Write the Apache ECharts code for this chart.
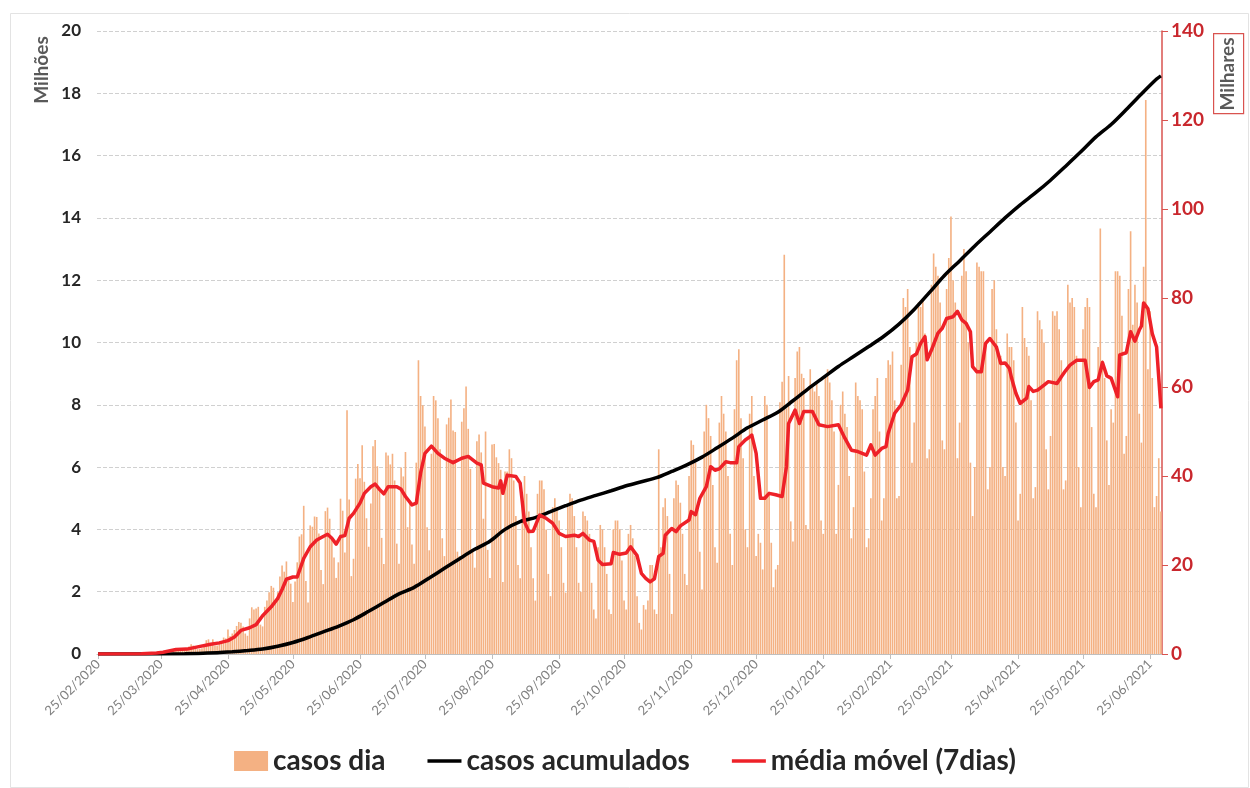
<!DOCTYPE html>
<html>
<head>
<meta charset="utf-8">
<script src="https://cdn.jsdelivr.net/npm/echarts@6/dist/echarts.min.js"></script>
<style>
  html, body { margin: 0; padding: 0; background: #fff; }
  #chart { width: 1250px; height: 788px; }
</style>
</head>
<body>
<div id="chart"></div>
<script>
// datas: 25/02/2020 .. 30/06/2021 (um valor por dia)
var startDate = Date.UTC(2020, 1, 25);
var nDays = 492;
function pad(n) { return (n < 10 ? '0' : '') + n; }
var dates = [];
for (var i = 0; i < nDays; i++) {
    var d = new Date(startDate + i * 86400000);
    dates.push(pad(d.getUTCDate()) + '/' + pad(d.getUTCMonth() + 1) + '/' + d.getUTCFullYear());
}

// casos por dia, em milhares (semanas de terça a segunda)
var casosDia = [
    0, 0, 0, 0, 0, 0, 0,
    0, 0, 0.01, 0, 0, 0.01, 0,
    0.02, 0.01, 0.02, 0.04, 0.03, 0.05, 0.04,
    0.06, 0.1, 0.2, 0.2, 0.3, 0.4, 0.3,
    0.35, 0.23, 0.48, 0.5, 0.5, 0.35, 0.32,
    1.1, 1.0, 1.2, 1.1, 1.2, 0.9, 0.9,
    1.7, 2.2, 1.9, 1.8, 1.1, 1.2, 1.3,
    1.8, 3.1, 3.3, 2.1, 3.3, 1.9, 1.9,
    2.3, 2.7, 3.7, 3.5, 5.5, 4.0, 4.6,
    5.4, 6.3, 7.2, 7.0, 6.2, 4.6, 4.1,
    8.0, 10.5, 10.0, 10.2, 10.6, 6.6, 6.2,
    10.6, 12.0, 13.9, 15.3, 14.9, 11.8, 13.9,
    17.4, 19.9, 18.5, 20.8, 16.5, 15.8, 11.7,
    16.3, 20.6, 26.4, 26.9, 33.3, 16.4, 11.6,
    28.9, 28.6, 30.9, 30.8, 27.1, 18.9, 15.7,
    32.1, 32.9, 30.4, 26.0, 21.7, 17.1, 20.6,
    34.9, 32.2, 22.8, 54.8, 34.7, 17.5, 21.4,
    39.4, 42.7, 39.5, 46.9, 38.7, 30.5, 24.1,
    33.8, 46.7, 48.1, 42.2, 37.3, 26.1, 20.2,
    45.3, 44.6, 42.6, 45.0, 39.0, 24.8, 20.3,
    41.9, 39.9, 45.4, 28.5, 34.2, 24.6, 20.3,
    43.0, 66.0, 58.0, 55.9, 51.1, 28.5, 23.3,
    45, 58, 57, 53, 46, 26, 22,
    51.6, 53.1, 57.2, 50.2, 49.9, 23.0, 22.0,
    52.2, 55.2, 60.1, 50.6, 41.6, 23.1, 19.4,
    47.8, 49.3, 45.3, 30.4, 50.0, 23.4, 17.1,
    47.1, 47.2, 44.2, 42.9, 41.4, 16.2, 41.0,
    41, 46, 44, 39, 31, 20, 17,
    35, 40, 36, 32, 24, 17, 12,
    36, 39, 39, 37, 28, 18, 13,
    33, 35, 33, 30, 24, 16, 13.8,
    33, 36, 35, 31, 24, 16, 14,
    32, 31, 30, 27, 16, 10, 8,
    24, 29, 28, 24, 18, 10, 9,
    28, 30, 30, 28, 21, 12, 10,
    27, 29, 26, 22, 13, 7, 5.5,
    11, 10, 12, 20, 20, 10, 9,
    46, 24, 33, 35, 31, 18, 9,
    35, 39, 38, 34, 27, 18, 15.5,
    40, 48, 47, 43, 33, 23, 14.5,
    50, 56, 53, 49, 38, 24, 20.5,
    52, 58, 54, 50, 40, 27, 20,
    55, 66, 68.5, 53, 44, 28, 24,
    54, 58, 40, 22, 27, 25, 19,
    58, 56, 36, 25, 15, 19, 20,
    56.6, 61.2, 89.7, 55.2, 62.5, 29.8, 25.3,
    62, 68, 69, 63, 62, 29, 28,
    64, 60, 59, 61, 58, 30, 27,
    62, 64, 61, 57, 50, 27, 38,
    56, 59, 54, 51, 40, 26, 33,
    61, 58, 57, 55, 41, 24, 26,
    35, 55, 58, 62, 50, 30, 35,
    62, 66, 65, 68, 57, 35, 35.5,
    65, 80, 78, 82, 69, 43, 52,
    70, 79, 78, 80, 72, 44, 46,
    83, 90, 87, 85, 79, 48, 46,
    82, 89, 98.3, 84, 79, 44, 52,
    85, 91, 86, 70, 43, 31, 42,
    88, 87, 86, 86, 70, 37, 42,
    82, 84, 73, 67, 67, 42, 40,
    72, 69, 69, 66, 52, 30, 36,
    78, 71, 69, 67, 57, 35, 37.5,
    77, 75, 73, 70, 46, 37, 49,
    77, 76, 77, 73, 66, 37, 39,
    83, 79, 80, 78, 67, 42, 33,
    73, 78, 80, 78, 51, 36, 33,
    69, 95.6, 66, 62, 48, 38, 55,
    52, 86, 86, 85, 76, 45, 49,
    82, 95, 74, 83, 79, 54, 47.5,
    87, 124.5, 64, 77, 62, 33, 35.5,
    44, 32
];

// média móvel (7 dias), em milhares: índice do dia e valor
var mediaDia = [0, 20, 27, 30, 36, 41, 46, 52, 56, 60, 63, 66, 70, 73, 76, 80, 83, 85, 87, 90,
    92, 95, 98, 101, 104, 106, 108, 110, 112, 114, 116, 118, 121, 123, 126, 128, 130, 132, 134, 138,
    140, 142, 145, 147, 149, 151, 154, 157, 160, 164, 168, 171, 175, 177, 178, 182, 185, 186, 187, 189,
    193, 195, 197, 199, 201, 204, 207, 210, 213, 216, 220, 222, 224, 227, 229, 231, 233, 237, 238, 241,
    244, 246, 249, 251, 253, 255, 257, 259, 261, 262, 265, 267, 269, 273, 274, 276, 278, 281, 283, 285,
    287, 290, 292, 295, 296, 299, 301, 302, 304, 306, 308, 310, 313, 316, 318, 319, 322, 324, 326, 330,
    333, 337, 342, 345, 348, 351, 355, 357, 359, 362, 364, 365, 368, 371, 374, 376, 378, 380, 382, 383,
    385, 388, 390, 392, 395, 397, 399, 401, 403, 404, 406, 408, 410, 412, 415, 417, 419, 421, 422, 424,
    426, 429, 430, 432, 434, 437, 439, 443, 445, 447, 449, 452, 456, 458, 460, 462, 464, 466, 468, 471,
    472, 475, 477, 479, 481, 482, 483, 485, 487, 489, 491];
var mediaVal = [0, 0.05, 0.25, 0.4, 1.0, 1.1, 1.6, 2.2, 2.5, 3.0, 3.8, 5.3, 5.9, 6.6, 8.6, 10.6, 12.5, 14.5, 16.8, 17.3,
    17.3, 21.5, 24.1, 25.6, 26.4, 26.9, 26.0, 24.7, 26.4, 26.6, 30.5, 31.6, 33.9, 36.1, 37.6, 38.2, 37.0, 36.0, 37.6, 37.6,
    37.0, 35.4, 33.5, 33.9, 40.7, 45.1, 46.7, 45.1, 44.0, 43.0, 44.0, 44.4, 42.9, 42.5, 38.4, 37.6, 37.3, 38.9, 36.1, 40.2,
    39.9, 38.4, 29.7, 27.5, 27.6, 31.2, 30.5, 29.4, 27.1, 26.4, 26.7, 26.4, 27.1, 25.6, 25.3, 21.1, 20.1, 20.3, 22.8, 22.4,
    22.7, 24.1, 22.1, 18.1, 17.0, 16.2, 16.9, 21.9, 22.6, 26.7, 28.2, 27.5, 28.8, 30.1, 32.0, 31.3, 35.0, 37.6, 42.1, 41.3,
    41.6, 43.2, 43.0, 43.0, 46.6, 48.1, 48.8, 49.2, 45.1, 35.0, 35.0, 36.1, 35.8, 35.4, 42.1, 51.8, 54.8, 51.8, 54.5, 54.5,
    51.5, 51.1, 51.5, 48.5, 45.8, 45.5, 44.7, 47.0, 44.7, 46.2, 46.6, 49.6, 54.1, 56.0, 59.3, 66.8, 67.4, 69.8, 71.3, 66.1,
    68.3, 72.1, 73.2, 75.4, 75.8, 77.0, 75.1, 74.3, 72.4, 64.6, 63.4, 63.4, 69.8, 70.9, 69.0, 65.3, 65.4, 64.2, 62.0, 58.6,
    56.3, 57.5, 60.1, 59.0, 59.3, 60.4, 61.2, 60.8, 62.3, 63.7, 64.9, 66.0, 66.0, 59.9, 61.2, 61.6, 65.5, 62.5, 62.0, 57.8,
    67.2, 67.7, 72.4, 70.3, 72.8, 73.7, 78.9, 77.6, 72.0, 69.0, 55.2];

// casos acumulados, em milhões
var acumDia = [0, 40, 55, 62, 69, 76, 83, 90, 97, 104, 111, 118, 125, 132, 139, 146, 153, 160, 167, 174,
    181, 188, 195, 202, 209, 216, 223, 230, 237, 244, 251, 258, 265, 272, 279, 286, 293, 300, 307, 314,
    321, 328, 335, 342, 349, 356, 363, 370, 377, 384, 391, 398, 405, 412, 419, 426, 433, 440, 447, 454,
    461, 468, 475, 482, 489, 491];
var acumVal = [0, 0.01, 0.04, 0.07, 0.11, 0.16, 0.25, 0.37, 0.53, 0.71, 0.89, 1.1, 1.37, 1.65, 1.93, 2.14, 2.44, 2.75, 3.06, 3.36,
    3.62, 4.0, 4.25, 4.38, 4.57, 4.76, 4.94, 5.09, 5.24, 5.40, 5.53, 5.66, 5.86, 6.07, 6.32, 6.62, 6.93, 7.26, 7.51, 7.76,
    8.13, 8.51, 8.87, 9.23, 9.55, 9.87, 10.2, 10.59, 11.06, 11.6, 12.15, 12.62, 13.1, 13.55, 14.0, 14.42, 14.8, 15.21, 15.66, 16.12,
    16.6, 17.0, 17.48, 17.98, 18.46, 18.56];

var yEsqTicks = { min: 0, max: 20, step: 2 };
var yDirTicks = { min: 0, max: 140, step: 20 };

var fonte = "Lato, 'Open Sans', sans-serif";
var vermelho = '#ee2128';
var iconeLinha = 'path://M0,0H34V3.6H0Z';

var chartDom = document.getElementById('chart');
var myChart = echarts.init(chartDom);

function is25(idx, value) { return value.substring(0, 3) === '25/'; }

var option = {
    backgroundColor: '#fff',
    animation: false,
    grid: { left: 97, right: 88, top: 31, bottom: 134 },
    legend: {
        bottom: 8,
        left: 'center',
        itemGap: 42,
        itemWidth: 34,
        itemHeight: 20,
        textStyle: { fontFamily: fonte, fontWeight: 'bold', fontSize: 28, color: '#262626' },
        data: [
            { name: 'casos dia', icon: 'rect' },
            { name: 'casos acumulados', icon: iconeLinha },
            { name: 'média móvel (7dias)', icon: iconeLinha }
        ]
    },
    xAxis: {
        type: 'category',
        data: dates,
        boundaryGap: true,
        axisLine: { lineStyle: { color: '#bfbfbf', width: 1 } },
        axisTick: { show: true, interval: is25, alignWithLabel: true, length: 5, lineStyle: { color: '#bfbfbf' } },
        axisLabel: { interval: is25, rotate: 45, color: '#7f7f7f', fontSize: 13, fontFamily: fonte, margin: 8 },
        splitLine: { show: false }
    },
    yAxis: [{
        type: 'value',
        position: 'left',
        min: yEsqTicks.min, max: yEsqTicks.max, interval: yEsqTicks.step,
        axisLine: { show: false },
        axisTick: { show: false },
        axisLabel: { color: '#262626', fontWeight: 'bold', fontSize: 17, fontFamily: fonte, margin: 16 },
        splitLine: { show: true, lineStyle: { color: '#d0d0d0', type: 'dashed', width: 1 } }
    }, {
        type: 'value',
        position: 'right',
        min: yDirTicks.min, max: yDirTicks.max, interval: yDirTicks.step,
        axisLine: { show: true, lineStyle: { color: '#d9534f', width: 1.5 } },
        axisTick: { show: true, inside: false, length: 6, lineStyle: { color: '#d9534f' } },
        axisLabel: { color: '#c9272d', fontWeight: 'bold', fontSize: 19, fontFamily: fonte, margin: 9 },
        splitLine: { show: false }
    }],
    graphic: [
        { type: 'rect', left: 8, top: 11, shape: { width: 1238, height: 774 }, style: { fill: 'none', stroke: '#e3e3e3', lineWidth: 1 }, silent: true },
        { type: 'text', x: 42, y: 70, rotation: Math.PI / 2,
          style: { text: 'Milhões', fill: '#595959', font: "bold 19px " + fonte, align: 'center', verticalAlign: 'middle' } },
        { type: 'rect', left: 1213, top: 33, shape: { width: 30, height: 80 }, style: { fill: '#fff', stroke: '#d9534f', lineWidth: 1.2 } },
        { type: 'text', x: 1228, y: 74, rotation: Math.PI / 2,
          style: { text: 'Milhares', fill: '#595959', font: "bold 19px " + fonte, align: 'center', verticalAlign: 'middle' } }
    ],
    series: [{
        name: 'casos dia',
        type: 'bar',
        yAxisIndex: 1,
        data: casosDia,
        barCategoryGap: '25%',
        itemStyle: { color: '#f4b183' },
        z: 1
    }, {
        name: 'casos acumulados',
        type: 'line',
        yAxisIndex: 0,
        data: acumDia.map(function (d, i) { return [d, acumVal[i]]; }),
        symbol: 'none',
        smooth: 0.3,
        lineStyle: { color: '#000', width: 3.5 },
        itemStyle: { color: '#000' },
        z: 3
    }, {
        name: 'média móvel (7dias)',
        type: 'line',
        yAxisIndex: 1,
        data: mediaDia.map(function (d, i) { return [d, mediaVal[i]]; }),
        symbol: 'none',
        lineStyle: { color: vermelho, width: 3.5, join: 'round' },
        itemStyle: { color: vermelho },
        z: 4
    }]
};
myChart.setOption(option);
</script>
</body>
</html>
